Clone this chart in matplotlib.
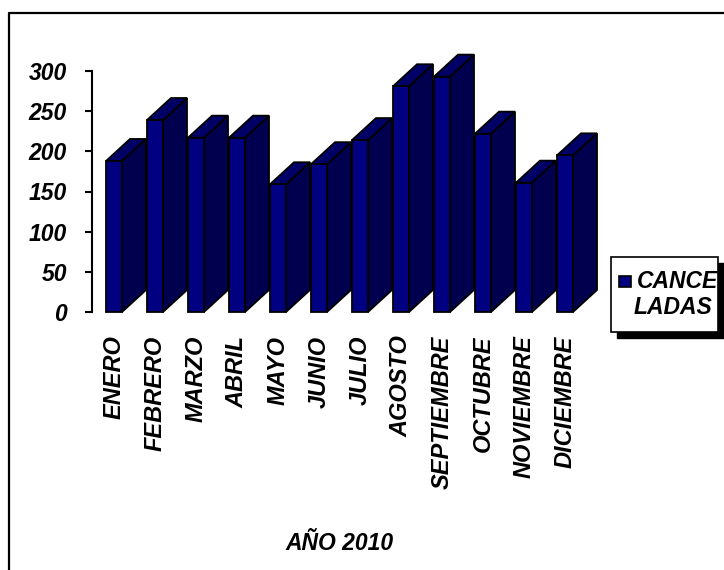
import matplotlib
matplotlib.use("Agg")
import matplotlib.pyplot as plt
from matplotlib.patches import Polygon, Rectangle
from matplotlib.lines import Line2D

months = ["ENERO", "FEBRERO", "MARZO", "ABRIL", "MAYO", "JUNIO", "JULIO",
          "AGOSTO", "SEPTIEMBRE", "OCTUBRE", "NOVIEMBRE", "DICIEMBRE"]
canceladas = [188, 239, 217, 217, 159, 184, 214, 281, 293, 222, 161, 195]
yticks = [0, 50, 100, 150, 200, 250, 300]
series_label = ["CANCE", "LADAS"]
xlabel = "AÑO 2010"

FONT = "Liberation Sans"
front_c = "#000080"
side_c = "#00004E"
top_c = "#000066"

W, H = 724, 570
fig = plt.figure(figsize=(W / 100, H / 100), dpi=100)
fig.patch.set_facecolor("white")


def fx(px):
    return px / W


def fy(py):
    return 1 - py / H


# axes placement in pixels
ax_l, ax_r, ax_t, ax_b = 92, 600, 71, 312
ax = fig.add_axes([fx(ax_l), fy(ax_b), (ax_r - ax_l) / W, (ax_b - ax_t) / H])

px_per_unit = 41.0
w = 16 / px_per_unit
dx = 24 / px_per_unit
dy = 22 / ((ax_b - ax_t) / 300)

x = list(range(len(months)))
bars = ax.bar(x, canceladas, width=w, color=front_c, edgecolor="black",
              linewidth=1.3, zorder=3, clip_on=False)
for i, (xi, v) in enumerate(zip(x, canceladas)):
    r = xi + w / 2
    l = xi - w / 2
    side = Polygon([(r, 0), (r + dx, dy), (r + dx, v + dy), (r, v)], closed=True,
                   facecolor=side_c, edgecolor="black", linewidth=1.3,
                   zorder=3 + i * 0.01, clip_on=False)
    top = Polygon([(l, v), (l + dx, v + dy), (r + dx, v + dy), (r, v)], closed=True,
                  facecolor=top_c, edgecolor="black", linewidth=1.3,
                  zorder=3 + i * 0.01, clip_on=False)
    ax.add_patch(side)
    ax.add_patch(top)
    bars[i].set_zorder(3 + i * 0.01 + 0.001)

ax.set_xlim(-22 / px_per_unit, -22 / px_per_unit + (ax_r - ax_l) / px_per_unit)
ax.set_ylim(0, 300)
ax.set_yticks(yticks)
ax.set_yticklabels([str(t) for t in yticks], fontfamily=FONT, fontsize=16.5,
                   fontweight="bold", fontstyle="italic")
ax.set_xticks(x)
ax.set_xticklabels(months, rotation=90, fontfamily=FONT, fontsize=17,
                   fontweight="bold", fontstyle="italic")
ax.tick_params(axis="x", length=0, pad=17)
ax.tick_params(axis="y", length=5, width=1.5, pad=13, direction="out")
for s in ["top", "right", "bottom"]:
    ax.spines[s].set_visible(False)
ax.spines["left"].set_linewidth(1.5)
ax.patch.set_alpha(0)

fig.text(fx(340), fy(543), xlabel, ha="center", va="center", fontfamily=FONT,
         fontsize=16.5, fontweight="bold", fontstyle="italic")

# outer frame (left and top)
fig.add_artist(Line2D([fx(8.5), fx(8.5), 1.0], [0, fy(12.5), fy(12.5)],
                      transform=fig.transFigure, color="black", linewidth=1.6))

# legend box with black drop shadow
lb_l, lb_t, lb_r, lb_b = 611, 257, 718, 332
sh = 6
fig.add_artist(Rectangle((fx(lb_l + sh), fy(lb_b + sh)), (lb_r - lb_l) / W,
                         (lb_b - lb_t) / H, transform=fig.transFigure,
                         facecolor="black", edgecolor="black", zorder=10))
fig.add_artist(Rectangle((fx(lb_l), fy(lb_b)), (lb_r - lb_l) / W,
                         (lb_b - lb_t) / H, transform=fig.transFigure,
                         facecolor="white", edgecolor="black", linewidth=1.2,
                         zorder=11))
fig.add_artist(Rectangle((fx(619), fy(287)), 12 / W, 11 / H,
                         transform=fig.transFigure, facecolor=front_c,
                         edgecolor="black", linewidth=1.2, zorder=12))
fig.text(fx(637), fy(281), series_label[0], ha="left", va="center",
         fontfamily=FONT, fontsize=16.5, fontweight="bold", fontstyle="italic",
         zorder=13)
fig.text(fx(634), fy(307), series_label[1], ha="left", va="center",
         fontfamily=FONT, fontsize=16.5, fontweight="bold", fontstyle="italic",
         zorder=13)

fig.savefig("out.png", dpi=100, facecolor="white")
